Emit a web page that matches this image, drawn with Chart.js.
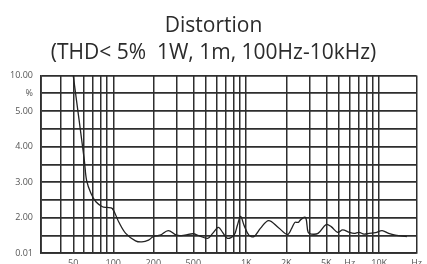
<!DOCTYPE html>
<html>
<head>
<meta charset="utf-8">
<script src="https://cdn.jsdelivr.net/npm/chart.js@4/dist/chart.umd.min.js"></script>
<style>
	html, body { margin: 0; padding: 0; background: #fff; overflow: hidden; }
	#wrap { width: 427px; height: 275px; position: relative; }
</style>
</head>
<body>
<div id="wrap"><canvas id="distortion"></canvas></div>
<script>
// frequency (Hz) / THD curve, y in grid units (1 = bottom line, 6 = top line)
var freqs = [50, 60.6, 63, 68, 74, 82.9, 89.8, 98.3, 110, 124, 147, 164, 184, 200, 225, 259, 299, 345, 397, 445, 513, 559, 617, 664, 723, 810, 858, 907, 962, 1047, 1141, 1277, 1474, 1749, 2040, 2196, 2323, 2462, 2560, 2789, 2921, 3090, 3467, 3994, 4350, 4877, 5313, 5945, 6477, 7058, 7686, 8372, 9387, 10520, 11780, 13210, 16140];
var thd = [6.0, 3.61, 3.05, 2.68, 2.45, 2.31, 2.29, 2.26, 1.88, 1.56, 1.35, 1.32, 1.37, 1.47, 1.51, 1.64, 1.51, 1.51, 1.55, 1.49, 1.42, 1.56, 1.73, 1.59, 1.42, 1.51, 1.79, 2.04, 1.79, 1.51, 1.47, 1.70, 1.92, 1.72, 1.53, 1.70, 1.87, 1.87, 1.94, 2.01, 1.59, 1.54, 1.56, 1.81, 1.75, 1.59, 1.66, 1.59, 1.56, 1.59, 1.54, 1.56, 1.58, 1.64, 1.56, 1.51, 1.47];

var xMin = 28.6;
var xMax = 19100;
var xTicks = [xMin, 40, 50, 60, 70, 80, 90, 100, 200, 300, 400, 500, 600, 700, 800, 900, 1000, 2000, 3000, 4000, 5000, 6000, 7000, 8000, 9000, 10000, xMax];
var xLabels = { 50: '50', 100: '100', 200: '200', 400: '500', 1000: '1K', 2000: '2K', 4000: '5K', 6000: 'Hz', 10000: '10K' };
xLabels[xMax] = 'Hz';

var yTicks = [1, 1.5, 2, 2.5, 3, 3.5, 4, 4.5, 5, 5.5, 6];
var yLabels = { 1: '0.01', 2: '2.00', 3: '3.00', 4: '4.00', 5: '5.00', 5.5: '%', 6: '10.00' };

var points = freqs.map(function(f, i) { return { x: f, y: thd[i] }; });

var ctx = document.getElementById('distortion').getContext('2d');
var chart = new Chart(ctx, {
	type: 'line',
	data: {
		datasets: [{
			data: points,
			borderColor: '#222',
			borderWidth: 1.3,
			pointRadius: 0,
			fill: false,
			tension: 0.35
		}]
	},
	options: {
		responsive: true,
		maintainAspectRatio: false,
		animation: false,
		layout: { padding: { left: 0, right: 0, top: 0, bottom: 0 } },
		plugins: {
			legend: { display: false },
			tooltip: { enabled: false },
			title: {
				display: true,
				text: ['Distortion', '(THD< 5%  1W, 1m, 100Hz-10kHz)'],
				color: '#2b2b2b',
				font: { family: 'Open Sans', size: 21, weight: 'normal', lineHeight: 1.3 },
				padding: { top: 12, bottom: 9 }
			}
		},
		scales: {
			x: {
				type: 'logarithmic',
				min: xMin,
				max: xMax,
				afterBuildTicks: function(scale) {
					scale.ticks = xTicks.map(function(v) { return { value: v }; });
				},
				afterFit: function(scale) { scale.height = 21.7; },
				ticks: {
					autoSkip: false,
					maxRotation: 0,
					padding: 5,
					color: '#555',
					font: { family: 'Open Sans', size: 9 },
					callback: function(value) { return xLabels[value] || ''; }
				},
				grid: { color: '#2e2e2e', lineWidth: 1.5, drawTicks: false },
				border: { color: '#2e2e2e', width: 1.8 }
			},
			y: {
				min: 1,
				max: 6,
				afterBuildTicks: function(scale) {
					scale.ticks = yTicks.map(function(v) { return { value: v }; });
				},
				afterFit: function(scale) { scale.width = 41; },
				ticks: {
					padding: 8,
					color: '#555',
					font: { family: 'Open Sans', size: 9 },
					callback: function(value) { return yLabels[value] || ''; }
				},
				grid: { color: '#2e2e2e', lineWidth: 1.8, drawTicks: false },
				border: { color: '#2e2e2e', width: 1.8 }
			}
		}
	}
});
</script>
</body>
</html>
